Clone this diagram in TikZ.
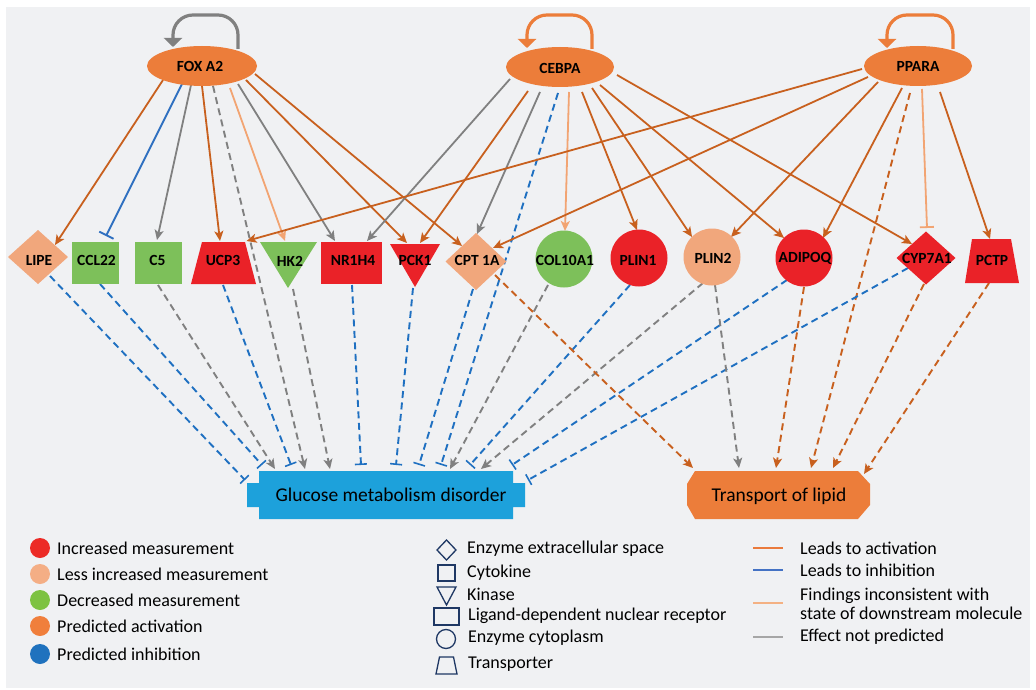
\documentclass[tikz,border=0pt]{standalone}
\usepackage{fontspec}
\setmainfont{Carlito}
\usetikzlibrary{arrows.meta,calc}
\definecolor{bgc}{HTML}{F0F1F3}
\definecolor{cred}{HTML}{EA2228}
\definecolor{csal}{HTML}{F1A77C}
\definecolor{cgreen}{HTML}{7DC05A}
\definecolor{creg}{HTML}{EC7D3A}
\definecolor{cglu}{HTML}{1DA1DB}
\definecolor{eact}{HTML}{C8601E}
\definecolor{einh}{HTML}{2E6FC0}
\definecolor{egray}{HTML}{808080}
\definecolor{esal}{HTML}{F2A472}
\definecolor{edblue}{HTML}{1F70C1}
\definecolor{cnavy}{HTML}{1F3864}
\definecolor{lgred}{HTML}{EC2B26}
\definecolor{lgsal}{HTML}{F4AE85}
\definecolor{lggreen}{HTML}{7DC242}
\definecolor{lgor}{HTML}{F07F3C}
\definecolor{lgblue}{HTML}{1F72BE}
\definecolor{lgact}{HTML}{EA7A3C}
\definecolor{lginh}{HTML}{4472C4}
\definecolor{lginc}{HTML}{F4B183}
\definecolor{lggray}{HTML}{A6A6A6}
\newcommand\myedge[5]{\draw[#1] ($(#2)+(#3)$) -- ($(#4)+(#5)$);}
\tikzset{
  lab/.style={font=\fontsize{15.5}{17}\selectfont\bfseries, inner sep=0pt},
  leg/.style={font=\fontsize{18}{20}\selectfont, inner sep=0pt, anchor=west},
  atip/.style={-{Stealth[length=10pt,width=9pt,inset=2.5pt]}},
  ttip/.style={-{Bar[width=12pt,line width=1.6pt]}},
  act/.style={draw=eact, line width=1.8pt, atip},
  inh/.style={draw=einh, line width=1.8pt, -{Bar[width=16pt,line width=1.8pt]}},
  gra/.style={draw=egray, line width=1.8pt, atip},
  sal/.style={draw=esal, line width=1.8pt, atip},
  salT/.style={draw=esal, line width=1.8pt, -{Bar[width=14pt,line width=1.8pt]}},
  dsh/.style={line width=1.9pt, dash pattern=on 7pt off 4.5pt},
  dbluT/.style={draw=edblue, dsh, ttip},
  dgra/.style={draw=egray, dsh, atip},
  dora/.style={draw=eact, dsh, atip},
  selfloop/.style={line width=3.2pt, rounded corners=20pt, -{Triangle[width=18pt,length=9pt]}},
  legshape/.style={draw=cnavy, line width=1.3pt},
  legline/.style={line width=2pt}
}
\begin{document}
\begin{tikzpicture}[x=1pt,y=-1pt]
\useasboundingbox (0,0) rectangle (1036,690);
\fill[white] (0,0) rectangle (1036,690);
\fill[bgc] (6,7) rectangle (1030,688);

% ---------- label nodes (named) ----------
\node[lab] (fox) at (202,66) {};
\node[lab] (cebpa) at (560,67) {};
\node[lab] (ppara) at (918,66) {};
\node[lab] (lipe) at (38,257) {};
\node[lab] (ccl22) at (95.5,263) {};
\node[lab] (c5) at (158.5,263) {};
\node[lab] (ucp3) at (223.5,263) {};
\node[lab] (hk2) at (288,262) {};
\node[lab] (nr1h4) at (351.5,263) {};
\node[lab] (pck1) at (415,262) {};
\node[lab] (cpt1a) at (476,262) {};
\node[lab] (col10a1) at (564,259) {};
\node[lab] (plin1) at (639,258) {};
\node[lab] (plin2) at (712,257) {};
\node[lab] (adipoq) at (804,258) {};
\node[lab] (cyp7a1) at (926,258) {};
\node[lab] (pctp) at (992,261) {};
\node[lab] (glu) at (391,495) {};
\node[lab] (tra) at (779,495) {};

% ---------- edges ----------
% FOX A2
\myedge{act}{fox}{-39,14}{lipe}{17,-12}
\myedge{inh}{fox}{-20,18}{ccl22}{10.5,-27}
\myedge{gra}{fox}{-11,19}{c5}{-1.5,-23}
\myedge{act}{fox}{0,20}{ucp3}{-3.5,-22}
\myedge{dgra}{fox}{11,20}{glu}{-86,-26}
\myedge{sal}{fox}{28,22}{hk2}{-3,-21}
\myedge{gra}{fox}{36,18}{nr1h4}{-16.5,-22}
\myedge{act}{fox}{44,14}{pck1}{-8,-19}
\myedge{act}{fox}{53,8}{cpt1a}{-14,-16}
% CEBPA
\myedge{gra}{cebpa}{-50,12}{nr1h4}{15.5,-22}
\myedge{act}{cebpa}{-32,24}{pck1}{5,-19}
\myedge{gra}{cebpa}{-20,25}{cpt1a}{1,-28}
\myedge{dbluT}{cebpa}{-2,26}{glu}{50,-30}
\myedge{sal}{cebpa}{9,25}{col10a1}{1,-28}
\myedge{act}{cebpa}{22,25}{plin1}{-2,-28}
\myedge{act}{cebpa}{32,21}{plin2}{-20,-20}
\myedge{act}{cebpa}{40,18}{adipoq}{-20,-20}
\myedge{act}{cebpa}{57,8}{cyp7a1}{-14,-14}
% PPARA
\myedge{act}{ppara}{-56,3}{ucp3}{23,-22}
\myedge{act}{ppara}{-50,11}{cpt1a}{17,-14}
\myedge{act}{ppara}{-40,16}{plin2}{19,-20}
\myedge{act}{ppara}{-16,22}{adipoq}{19,-20}
\myedge{dora}{ppara}{-8,27}{tra}{32,-27}
\myedge{salT}{ppara}{4,23}{cyp7a1}{1,-30}
\myedge{act}{ppara}{22,26}{pctp}{-2,-22}
% to glucose metabolism disorder
\myedge{dbluT}{lipe}{12,19}{glu}{-146,-15}
\myedge{dbluT}{ccl22}{4.5,21}{glu}{-129,-30}
\myedge{dgra}{c5}{-0.5,22}{glu}{-116,-26}
\myedge{dbluT}{ucp3}{-0.5,22}{glu}{-100,-30}
\myedge{dgra}{hk2}{5,27}{glu}{-61,-26}
\myedge{dbluT}{nr1h4}{0.5,22}{glu}{-30,-30}
\myedge{dbluT}{pck1}{-2,26}{glu}{5,-30}
\myedge{dbluT}{cpt1a}{-3,27}{glu}{28,-30}
\myedge{dgra}{col10a1}{-16,26}{glu}{59,-26}
\myedge{dbluT}{plin1}{-9,27}{glu}{79,-30}
\myedge{dgra}{plin2}{-9,26}{glu}{90,-26}
\myedge{dbluT}{adipoq}{-17,22}{glu}{121,-30}
\myedge{dbluT}{cyp7a1}{-18,10}{glu}{137,-15}
% to transport of lipid
\myedge{dora}{cpt1a}{19,13}{tra}{-86,-27}
\myedge{dgra}{plin2}{3,28}{tra}{-40,-27}
\myedge{dora}{adipoq}{0,29}{tra}{-3,-27}
\myedge{dora}{cyp7a1}{-2,26}{tra}{54,-27}
\myedge{dora}{pctp}{-3,22}{tra}{85,-21}

% self loops
\draw[selfloop, draw=egray] ($(fox)+(36,-17)$) -- ++(0,-34) -- ($(fox)+(-29,-51)$) -- ($(fox)+(-29,-19)$);
\draw[selfloop, draw=creg] ($(cebpa)+(32,-18)$) -- ++(0,-34) -- ($(cebpa)+(-33,-52)$) -- ($(cebpa)+(-33,-19)$);
\draw[selfloop, draw=creg] ($(ppara)+(35,-17)$) -- ++(0,-34) -- ($(ppara)+(-31,-51)$) -- ($(ppara)+(-31,-18)$);

% ---------- shapes ----------
\fill[creg] (202,66) ellipse [x radius=55pt, y radius=20pt];
\fill[creg] (560,67) ellipse [x radius=54pt, y radius=20pt];
\fill[creg] (918,66) ellipse [x radius=54pt, y radius=20pt];
\fill[csal] (38,230) -- (68,257) -- (38,284) -- (8,257) -- cycle;
\fill[cgreen] (72,242) rectangle (119,284);
\fill[cgreen] (135,242) rectangle (182,284);
\fill[cred] (202,242) -- (245,242) -- (256,284) -- (191,284) -- cycle;
\fill[cgreen] (260,242) -- (317,242) -- (288,288) -- cycle;
\fill[cred] (321,242) rectangle (382,284);
\fill[cred] (390,244) -- (440,244) -- (415,287) -- cycle;
\fill[csal] (476,233) -- (506.5,261.5) -- (476,290) -- (445.5,261.5) -- cycle;
\fill[cgreen] (564,259) circle [radius=28.5pt];
\fill[cred] (639,258) circle [radius=28.5pt];
\fill[csal] (712,257) circle [radius=28.5pt];
\fill[cred] (804,258) circle [radius=28.5pt];
\fill[cred] (926,231.5) -- (955.5,258) -- (926,284.5) -- (896.5,258) -- cycle;
\fill[cred] (972,239) -- (1011,239) -- (1019,283) -- (965,283) -- cycle;
\fill[cglu] (259,471) -- (513,471) -- (513,483) -- (525,483) -- (525,507) -- (513,507) -- (513,519) -- (259,519) -- (259,507) -- (247,507) -- (247,483) -- (259,483) -- cycle;
\fill[creg] (695,471) -- (858,471) -- (870,484) -- (870,505) -- (858,519) -- (695,519) -- (687,505) -- (687,484) -- cycle;

% ---------- texts ----------
\node[lab] (tfox) at (200,66) {FOX A2};
\node[lab] (tcebpa) at (560,68) {CEBPA};
\node[lab] (tppara) at (918,66) {PPARA};
\node[lab] (tlipe) at (39,260) {LIPE};
\node[lab] (tccl22) at (96.5,260) {CCL22};
\node[lab] (tc5) at (157.5,260) {C5};
\node[lab] (tucp3) at (223,260) {UCP3};
\node[lab] (thk2) at (290,261) {HK2};
\node[lab] (tnr1h4) at (353,260) {NR1H4};
\node[lab] (tpck1) at (415,260) {PCK1};
\node[lab] (tcpt1a) at (477,260) {CPT 1A};
\node[lab] (tcol10a1) at (565,260) {COL10A1};
\node[lab] (tplin1) at (638,260) {PLIN1};
\node[lab] (tplin2) at (713,258) {PLIN2};
\node[lab] (tadipoq) at (805,258) {ADIPOQ};
\node[lab] (tcyp7a1) at (927,258) {CYP7A1};
\node[lab] (tpctp) at (992,260) {PCTP};
\node[font=\fontsize{19.5}{22}\selectfont, inner sep=0pt] (tglu) at (391,495) {Glucose metabolism disorder};
\node[font=\fontsize{19.5}{22}\selectfont, inner sep=0pt] (ttra) at (779,496) {Transport of lipid};

% ---------- legend ----------
\fill[lgred] (40,548) circle [radius=10pt];
\fill[lgsal] (40,574) circle [radius=10pt];
\fill[lggreen] (40,600) circle [radius=10pt];
\fill[lgor] (40,626) circle [radius=10pt];
\fill[lgblue] (40,654) circle [radius=10pt];
\node[leg] (lg1) at (57,548) {Increased measurement};
\node[leg] (lg2) at (57,574) {Less increased measurement};
\node[leg] (lg3) at (57,600) {Decreased measurement};
\node[leg] (lg4) at (57,626) {Predicted activation};
\node[leg] (lg5) at (57,654) {Predicted inhibition};

\draw[legshape] (446.5,540) -- (456,550) -- (446.5,560) -- (437,550) -- cycle;
\draw[legshape] (438,565) rectangle (455,581);
\draw[legshape] (437,587) -- (456,587) -- (446.5,605) -- cycle;
\draw[legshape] (434,608) rectangle (459,625);
\draw[legshape] (446,639) circle [radius=9.5pt];
\draw[legshape] (439.5,657) -- (453.5,657) -- (457,674) -- (436,674) -- cycle;
\node[leg] (lm1) at (467,549) {Enzyme extracellular space};
\node[leg] (lm2) at (467,573) {Cytokine};
\node[leg] (lm3) at (467,594) {Kinase};
\node[leg] (lm4) at (468,616) {Ligand-dependent nuclear receptor};
\node[leg] (lm5) at (468,638) {Enzyme cytoplasm};
\node[leg] (lm6) at (468,664) {Transporter};

\draw[legline, draw=lgact] (753,548) -- (783,548);
\draw[legline, draw=lginh] (753,570) -- (783,570);
\draw[legline, draw=lginc] (753,603) -- (783,603);
\draw[legline, draw=lggray] (753,637) -- (783,637);
\node[leg] (lr1) at (800,548) {Leads to activation};
\node[leg] (lr2) at (800,570) {Leads to inhibition};
\node[leg, align=left] (lr3) at (800,604) {Findings inconsistent with\\[-1pt]state of downstream molecule};
\node[leg] (lr4) at (800,637) {Effect not predicted};
\end{tikzpicture}
\end{document}
